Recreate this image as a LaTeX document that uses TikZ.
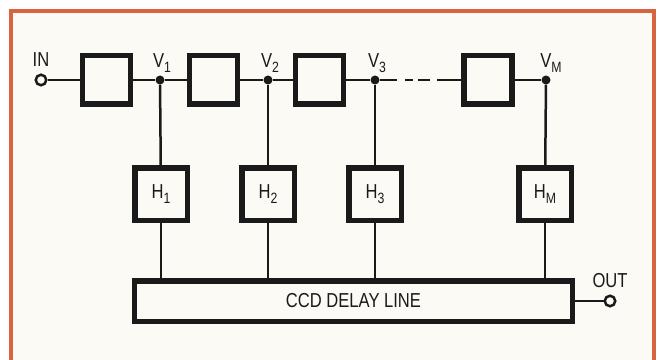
\documentclass[tikz,border=0pt]{standalone}
\usepackage{fontspec}
\setmainfont[FakeStretch=0.82]{Liberation Sans}
\usetikzlibrary{positioning}
\definecolor{cink}{HTML}{1A1A1A}
\definecolor{cframe}{HTML}{D9623F}
\definecolor{cpaper}{HTML}{FBFAF5}
\newcommand{\lowix}[1]{\raisebox{-0.45ex}{\fontsize{17}{19}\selectfont #1}}

\begin{document}
\begin{tikzpicture}[x=0.4mm, y=-0.4mm,
    blk/.style={draw=cink, line width=2.2mm, fill=cpaper, inner sep=0pt,
                minimum width=19.2mm, minimum height=19.4mm},
    hblk/.style={blk, minimum width=21mm, minimum height=21mm,
                 font=\fontsize{23}{26}\selectfont, text=cink},
    lab/.style={font=\fontsize{23}{26}\selectfont, text=cink, inner sep=0pt},
    dot/.style={circle, fill=cink, inner sep=0pt, minimum size=3.6mm},
    term/.style={circle, draw=cink, fill=cpaper, line width=1mm,
                 inner sep=0pt, minimum size=4.2mm},
    wire/.style={cink, line width=1mm}]
  \useasboundingbox (0,0) rectangle (659,360);
  \fill[white] (0,0) rectangle (659,360);
  \draw[cframe, line width=1.6mm, fill=cpaper] (11,11) rectangle (654,400);

  % upper chain
  \node[term] (in) at (41,80) {};
  \node[blk] (a1) at (106.5,80) {};
  \node[dot] (j1) at (160,80) {};
  \node[blk] (a2) at (213.5,80) {};
  \node[dot] (j2) at (268,80) {};
  \node[blk] (a3) at (319.5,80) {};
  \node[dot] (j3) at (375,80) {};
  \coordinate (d1) at (397,80);
  \coordinate (d2) at (437,80);
  \node[blk] (am) at (488,80) {};
  \node[dot] (jm) at (546,80) {};

  \node[lab, anchor=base] (lin) at (41,67) {IN};
  \node[lab, anchor=base] (lv1) at (162,68) {V\lowix{1}};
  \node[lab, anchor=base] (lv2) at (270,68) {V\lowix{2}};
  \node[lab, anchor=base] (lv3) at (377,68) {V\lowix{3}};
  \node[lab, anchor=base] (lvm) at (551,68) {V\lowix{M}};

  % taps
  \node[hblk] (h1) at (161,194) {H\lowix{1}};
  \node[hblk] (h2) at (268,194) {H\lowix{2}};
  \node[hblk] (h3) at (375,194) {H\lowix{3}};
  \node[hblk] (hm) at (545,194) {H\lowix{M}};

  \node[blk, minimum width=175mm, minimum height=16.2mm,
        font=\fontsize{23}{26}\selectfont, text=cink] (dl) at (353.5,301)
       {CCD DELAY LINE};
  \node[term] (out) at (610,301) {};
  \node[lab, anchor=base] (lout) at (610,287) {OUT};

  \draw[wire] (in) -- (a1);
  \draw[wire] (a1) -- (j1) -- (a2);
  \draw[wire] (a2) -- (j2) -- (a3);
  \draw[wire] (a3) -- (j3) -- (d1);
  \draw[wire, dash pattern=on 0mm off 3.2mm on 3.2mm off 2mm on 4.8mm off 2.8mm] (d1) -- (d2);
  \draw[wire] (d2) -- (am);
  \draw[wire] (am) -- (jm);
  \draw[wire] (j1) -- (h1);
  \draw[wire] (j2) -- (h2);
  \draw[wire] (j3) -- (h3);
  \draw[wire] (jm) -- (hm);
  \draw[wire] (h1) -- (h1 |- dl.north);
  \draw[wire] (h2) -- (h2 |- dl.north);
  \draw[wire] (h3) -- (h3 |- dl.north);
  \draw[wire] (hm) -- (hm |- dl.north);
  \draw[wire] (dl) -- (out);
\end{tikzpicture}
\end{document}
